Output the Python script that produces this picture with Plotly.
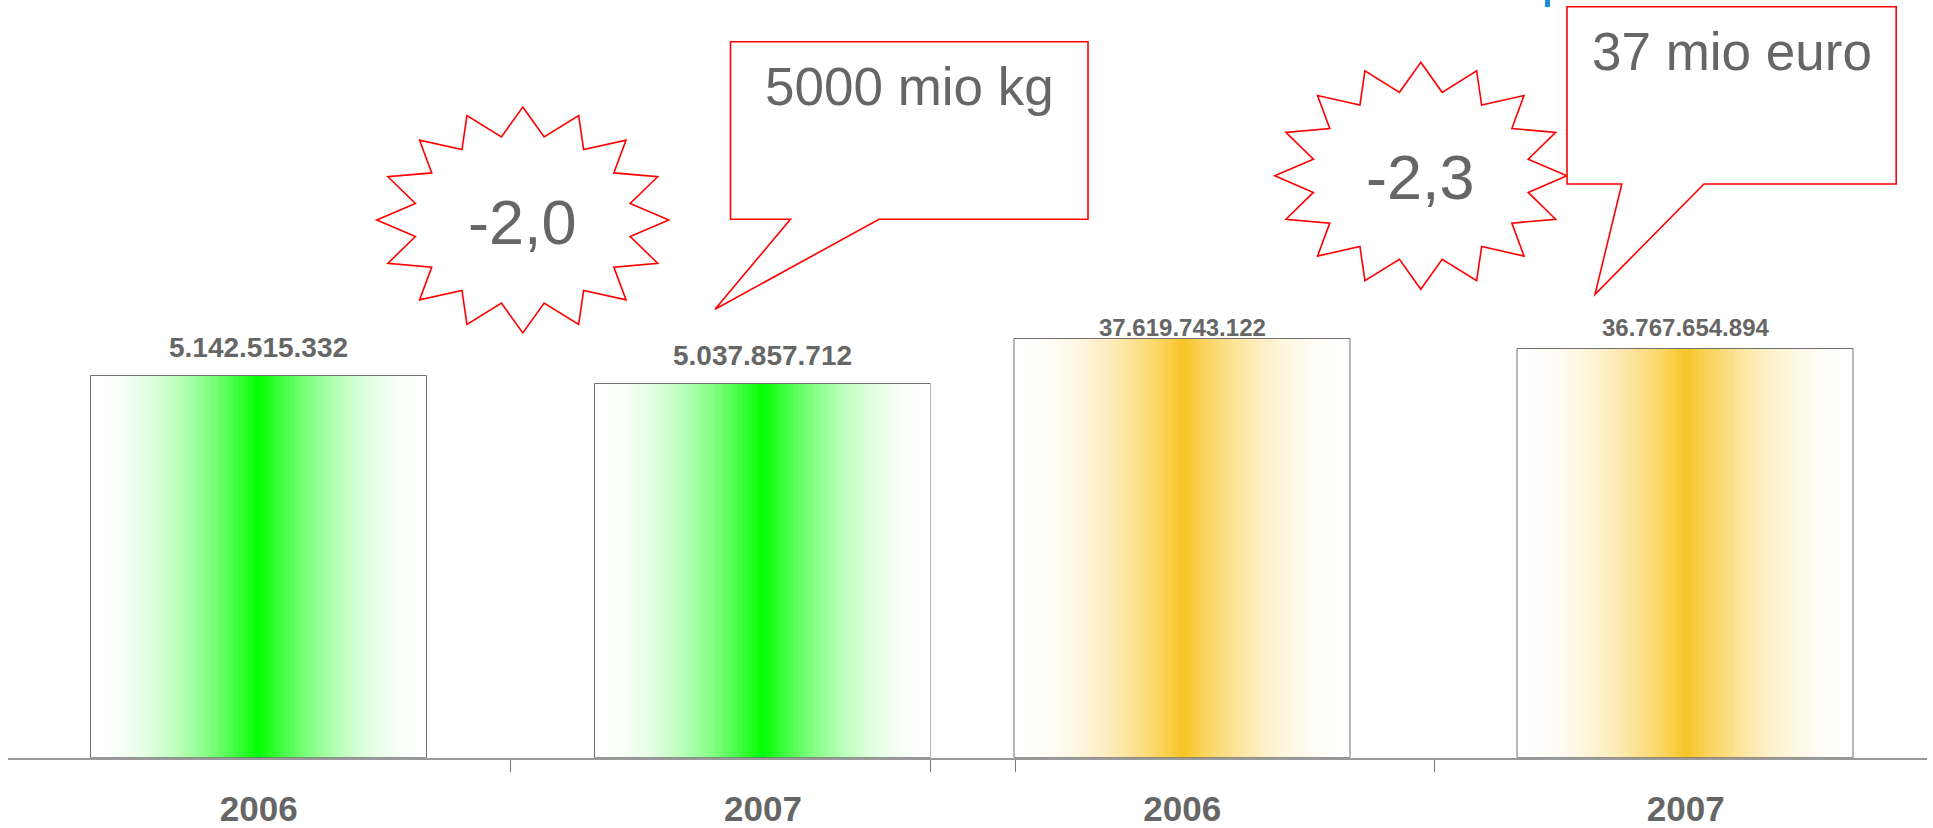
import numpy as np
import plotly.graph_objects as go

W, H = 1933, 828

# ---- data ----
years = ["2006", "2007"]
kg_values = [5142515332, 5037857712]
kg_labels = ["5.142.515.332", "5.037.857.712"]
euro_values = [37619743122, 36767654894]
euro_labels = ["37.619.743.122", "36.767.654.894"]
change_kg = "-2,0"
change_euro = "-2,3"
callout_kg = "5000 mio kg"
callout_euro = "37 mio euro"

GRAY = "#666666"
FONT = "Arial, Liberation Sans, sans-serif"


def px(x):
    return x / W


def py(y):
    return 1 - y / H


def mix(c, a):
    return "rgb(%d,%d,%d)" % tuple(round(255 * (1 - a) + ci * a) for ci in c)


fig = go.Figure()

N = 48
BAR_W = 2 / 3


def add_gradient_bars(xs, ys, center_rgb, xa, ya):
    for k in range(N):
        t = 1 - (k + 0.5) / N
        a = (1 - t) ** 2
        fig.add_trace(go.Bar(
            x=xs, y=ys, width=BAR_W * (1 - k / N),
            marker=dict(color=mix(center_rgb, a), line=dict(width=0)),
            xaxis=xa, yaxis=ya, showlegend=False, hoverinfo="skip"))
    fig.add_trace(go.Bar(
        x=xs, y=ys, width=BAR_W,
        marker=dict(color="rgba(0,0,0,0)", line=dict(width=1, color="#707070")),
        xaxis=xa, yaxis=ya, showlegend=False, hoverinfo="skip"))


add_gradient_bars(years, kg_values, (0, 255, 0), "x", "y")
add_gradient_bars(years, euro_values, (248, 197, 38), "x2", "y2")

axis_bottom = 757.7
ydom = [1 - axis_bottom / H, 1]

common_x = dict(
    type="category", showline=True, linecolor="#9a9a9a", linewidth=1.6,
    ticks="outside", tickson="boundaries", ticklen=12, tickcolor="#777777",
    tickwidth=1, showgrid=False, zeroline=False, ticklabelstandoff=19,
    tickfont=dict(size=35, color=GRAY, family=FONT, weight="bold"),
    fixedrange=True,
)

fig.update_layout(
    width=W, height=H, margin=dict(l=0, r=0, t=0, b=0),
    paper_bgcolor="white", plot_bgcolor="white",
    barmode="overlay", bargap=0,
    xaxis=dict(common_x, domain=[px(8), px(1015)], range=[-0.4975, 1.5], anchor="y"),
    yaxis=dict(domain=ydom, range=[0, 10208e6], visible=False, anchor="x"),
    xaxis2=dict(common_x, domain=[px(930.5), px(1927)], range=[-0.5, 1.479], anchor="y2"),
    yaxis2=dict(domain=ydom, range=[0, 68127e6], visible=False, anchor="x2"),
)

annotations = []
for i, (v, lab) in enumerate(zip(kg_values, kg_labels)):
    annotations.append(dict(
        x=i, y=v, xref="x", yref="y", text="<b>%s</b>" % lab, showarrow=False,
        yanchor="middle", yshift=28,
        font=dict(size=28, color=GRAY, family=FONT)))
for i, (v, lab) in enumerate(zip(euro_values, euro_labels)):
    annotations.append(dict(
        x=i, y=py(327.5), xref="x2", yref="paper", text="<b>%s</b>" % lab,
        showarrow=False, yanchor="middle",
        font=dict(size=24, color=GRAY, family=FONT)))


def star_path(cx, cy, rx, ry, n=16, inner=0.75):
    pts = []
    for k in range(2 * n):
        th = np.deg2rad(90 - k * 180 / n)
        r = 1 if k % 2 == 0 else inner
        pts.append((px(cx + rx * r * np.cos(th)), py(cy - ry * r * np.sin(th))))
    return "M " + " L ".join("%.5f,%.5f" % p for p in pts) + " Z"


def poly_path(points):
    return "M " + " L ".join("%.5f,%.5f" % (px(x), py(y)) for x, y in points) + " Z"


RED = "#ff0000"
shapes = [
    dict(type="path", xref="paper", yref="paper", path=star_path(522.8, 220, 146, 113),
         line=dict(color=RED, width=1.6), fillcolor="white", layer="above"),
    dict(type="path", xref="paper", yref="paper", path=star_path(1420.8, 175.8, 146, 113.5),
         line=dict(color=RED, width=1.6), fillcolor="white", layer="above"),
    dict(type="path", xref="paper", yref="paper",
         path=poly_path([(730.5, 41.7), (1088, 41.7), (1088, 219.3), (879, 219.3),
                         (715, 309.3), (790.4, 219.3), (730.5, 219.3)]),
         line=dict(color=RED, width=1.6), fillcolor="white", layer="above"),
    dict(type="path", xref="paper", yref="paper",
         path=poly_path([(1567, 6.7), (1896.2, 6.7), (1896.2, 184), (1704, 184),
                         (1595, 294.3), (1621.8, 184), (1567, 184)]),
         line=dict(color=RED, width=1.6), fillcolor="white", layer="above"),
    dict(type="rect", xref="paper", yref="paper", x0=px(1545), x1=px(1550),
         y0=py(7), y1=py(0), line=dict(width=0), fillcolor="#1a8ee0", layer="above"),
]

annotations += [
    dict(x=px(522.8), y=py(221.7), xref="paper", yref="paper", text=change_kg,
         showarrow=False, yanchor="middle", xanchor="center",
         font=dict(size=63, color=GRAY, family=FONT)),
    dict(x=px(1420.8), y=py(177.5), xref="paper", yref="paper", text=change_euro,
         showarrow=False, yanchor="middle", xanchor="center",
         font=dict(size=63, color=GRAY, family=FONT)),
    dict(x=px(909.3), y=py(86), xref="paper", yref="paper", text=callout_kg,
         showarrow=False, yanchor="middle", xanchor="center",
         font=dict(size=53, color=GRAY, family=FONT)),
    dict(x=px(1731.5), y=py(51), xref="paper", yref="paper", text=callout_euro,
         showarrow=False, yanchor="middle", xanchor="center",
         font=dict(size=53, color=GRAY, family=FONT)),
]

fig.update_layout(shapes=shapes, annotations=annotations)
fig.write_html(
    "out.html",
    config={"displayModeBar": False},
    post_script="document.body.style.margin='0';document.body.style.overflow='hidden';",
)
